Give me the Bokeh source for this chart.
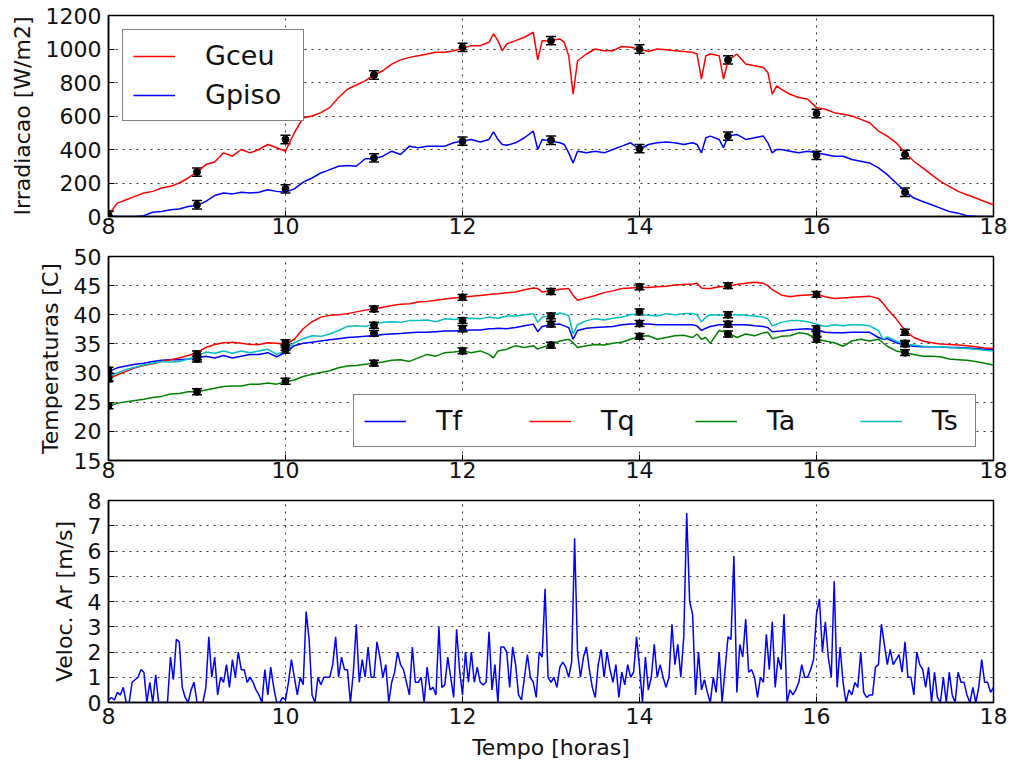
import numpy as np
from bokeh.plotting import figure
from bokeh.layouts import column
from bokeh.models import (Range1d, FixedTicker, Whisker, TeeHead, ColumnDataSource,
                          Legend, LegendItem)
from bokeh.embed import file_html
from bokeh.resources import INLINE

FONT = "DejaVu Sans"

# ---------------- data ----------------
x_ticks = [8, 10, 12, 14, 16, 18]

hora_g = [8.0, 8.1, 8.2, 8.3, 8.4, 8.5, 8.6, 8.7, 8.8, 8.9,
          9.0, 9.1, 9.2, 9.3, 9.4, 9.5, 9.6, 9.7, 9.8, 9.9,
          10.0, 10.1, 10.2, 10.3, 10.4, 10.5, 10.6, 10.7, 10.8, 10.9,
          11.0, 11.1, 11.2, 11.3, 11.4, 11.5, 11.6, 11.7, 11.8, 11.9,
          12.0, 12.1, 12.2, 12.3, 12.35, 12.4, 12.45, 12.5, 12.6, 12.7, 12.8, 12.85, 12.9,
          13.0, 13.1, 13.15, 13.2, 13.25, 13.3, 13.4, 13.5, 13.6, 13.7, 13.8, 13.9,
          14.0, 14.1, 14.2, 14.3, 14.4, 14.5, 14.6, 14.65, 14.7, 14.75, 14.8, 14.9, 14.95,
          15.0, 15.1, 15.2, 15.3, 15.4, 15.45, 15.5, 15.55, 15.6, 15.7, 15.8, 15.9,
          16.0, 16.1, 16.2, 16.3, 16.4, 16.5, 16.6, 16.7, 16.8, 16.9,
          17.0, 17.1, 17.2, 17.3, 17.4, 17.5, 17.6, 17.7, 17.8, 17.9, 18.0]

gceu = [10, 80, 100, 120, 140, 150, 170, 180, 200, 230,
        265, 310, 325, 380, 360, 400, 380, 400, 430, 410,
        390, 500, 590, 600, 620, 650, 710, 760, 785, 810,
        845, 870, 910, 935, 950, 960, 970, 980, 980, 990,
        1005, 1020, 1020, 1040, 1090, 1050, 990, 1030, 1050, 1070, 1100, 935, 1050,
        1050, 1060, 1040, 960, 730, 930, 970, 1000, 990, 990, 1015, 1010,
        1000, 985, 1000, 995, 990, 985, 980, 970, 820, 960, 970, 960, 820,
        930, 970, 910, 900, 890, 860, 730, 780, 760, 730, 710, 700,
        650, 640, 620, 610, 600, 580, 560, 510, 480, 440,
        380, 330, 290, 250, 210, 180, 150, 130, 110, 90, 70]

gpiso = [5, 0, 0, 0, 5, 25, 30, 40, 45, 60,
         65, 90, 125, 140, 135, 145, 140, 145, 160, 150,
         145, 165, 205, 230, 260, 280, 300, 305, 300, 345,
         345, 360, 390, 370, 420, 410, 420, 420, 420, 440,
         450, 460, 445, 460, 505, 460, 430, 425, 440, 470, 510, 400, 460,
         450, 440, 430, 380, 320, 390, 380, 390, 380, 400, 420, 440,
         400, 430, 440, 445, 440, 430, 440, 430, 380, 470, 480, 460, 410,
         480, 490, 460, 470, 480, 440, 380, 400, 400, 390, 380, 390,
         380, 370, 360, 360, 340, 330, 320, 290, 250, 200,
         150, 110, 90, 70, 50, 30, 20, 5, 2, 0, 0]

hora_t = [8.0, 8.1, 8.2, 8.3, 8.4, 8.5, 8.6, 8.7, 8.8, 8.9,
          9.0, 9.1, 9.2, 9.3, 9.4, 9.5, 9.6, 9.7, 9.8, 9.9,
          10.0, 10.1, 10.2, 10.3, 10.4, 10.5, 10.6, 10.7, 10.8, 10.9,
          11.0, 11.1, 11.2, 11.3, 11.4, 11.5, 11.6, 11.7, 11.8, 11.9,
          12.0, 12.1, 12.2, 12.3, 12.35, 12.4, 12.5, 12.6, 12.7, 12.8, 12.85, 12.9,
          13.0, 13.1, 13.2, 13.25, 13.3, 13.4, 13.5, 13.6, 13.7, 13.8, 13.9,
          14.0, 14.1, 14.2, 14.3, 14.4, 14.5, 14.6, 14.65, 14.7, 14.75, 14.8, 14.9,
          15.0, 15.1, 15.2, 15.3, 15.4, 15.45, 15.5, 15.6, 15.7, 15.8, 15.9,
          16.0, 16.1, 16.2, 16.3, 16.4, 16.5, 16.6, 16.7, 16.75, 16.8, 16.9,
          17.0, 17.1, 17.2, 17.3, 17.4, 17.5, 17.6, 17.7, 17.8, 17.9, 18.0]

tf = [30.3, 30.9, 31.2, 31.5, 31.7, 32.0, 32.2, 32.3, 32.3, 32.4,
      32.6, 32.9, 32.6, 33.0, 32.6, 32.9, 33.2, 33.2, 33.5, 32.8,
      33.5, 34.7, 35.1, 35.3, 35.5, 35.7, 35.9, 36.1, 36.2, 36.3,
      36.4, 36.6, 36.7, 36.8, 36.9, 37.0, 37.0, 37.1, 37.2, 37.2,
      37.3, 37.4, 37.4, 37.6, 37.6, 37.7, 37.6, 37.8, 38.1, 38.4, 37.1, 38.0,
      38.3, 38.4, 37.8, 35.8, 37.3, 37.7, 37.8, 37.9, 38.0, 38.3, 38.4,
      38.4, 38.4, 38.3, 38.3, 38.3, 38.3, 38.3, 38.1, 37.3, 37.7, 38.0, 38.3,
      38.3, 38.3, 38.3, 38.1, 38.0, 37.8, 37.1, 37.2, 37.4, 37.5, 37.6,
      37.4, 37.0, 36.9, 36.9, 37.0, 37.0, 37.0, 36.1, 35.8, 35.9, 35.2,
      34.8, 34.6, 34.5, 34.5, 34.5, 34.4, 34.4, 34.3, 34.2, 34.1, 34.1]

tq = [29.0, 29.7, 30.3, 30.9, 31.3, 31.6, 32.0, 32.3, 32.6, 33.0,
      33.5, 34.4, 34.9, 35.2, 35.3, 35.1, 34.9, 34.9, 35.2, 35.1,
      34.9, 35.8, 37.6, 38.8, 39.6, 39.9, 40.0, 40.2, 40.5, 40.8,
      41.0, 41.3, 41.6, 41.8, 41.9, 42.2, 42.3, 42.5, 42.7, 42.9,
      43.0, 43.2, 43.3, 43.5, 43.55, 43.6, 43.8, 43.9, 44.3, 44.6, 44.5, 43.9,
      44.1, 44.4, 44.5, 43.3, 42.5, 42.9, 43.3, 43.8, 44.1, 44.5, 44.6,
      44.7, 44.7, 44.8, 44.9, 45.1, 45.2, 45.3, 45.4, 44.6, 44.5, 44.5, 44.8,
      44.9, 45.2, 45.4, 45.6, 45.4, 45.0, 44.3, 43.4, 43.1, 43.3, 43.4,
      43.5, 43.1, 42.8, 42.9, 43.0, 43.1, 43.2, 42.8, 42.0, 41.0, 39.3,
      37.3, 36.1, 35.5, 35.2, 35.0, 34.9, 34.8, 34.7, 34.5, 34.3, 34.2]

ta = [24.3, 24.8, 25.1, 25.3, 25.5, 25.8, 26.0, 26.4, 26.5, 26.8,
      26.8, 27.1, 27.4, 27.7, 27.8, 27.8, 28.1, 28.1, 28.3, 28.1,
      28.5, 28.8, 29.4, 29.8, 30.1, 30.4, 30.9, 31.2, 31.3, 31.5,
      31.7, 31.9, 32.2, 32.3, 32.0, 32.6, 33.2, 32.9, 33.5, 33.6,
      33.8, 33.5, 33.8, 33.2, 32.6, 33.8, 34.1, 34.7, 34.4, 34.7, 34.1, 34.4,
      34.9, 35.5, 35.8, 35.2, 34.4, 34.7, 34.9, 34.8, 35.1, 35.3, 35.8,
      36.3, 36.4, 35.8, 36.1, 36.4, 36.5, 36.1, 36.7, 35.8, 36.1, 35.1, 37.3,
      36.9, 36.1, 36.7, 36.4, 36.9, 37.0, 35.9, 36.3, 36.4, 36.9, 36.7,
      35.8, 35.5, 35.2, 34.6, 35.5, 35.8, 35.5, 35.8, 35.2, 34.6, 33.8,
      33.5, 33.2, 32.9, 32.9, 32.8, 32.4, 32.3, 32.2, 32.0, 31.7, 31.4]

ts = [29.4, 30.0, 30.6, 31.0, 31.4, 31.7, 32.0, 31.9, 32.0, 32.4,
      32.9, 33.6, 33.4, 33.8, 33.4, 33.8, 33.5, 33.8, 34.1, 33.2,
      33.8, 35.2, 35.9, 36.4, 36.3, 36.7, 37.3, 38.0, 38.1, 38.0,
      38.4, 38.7, 38.8, 38.7, 39.0, 39.0, 39.1, 38.8, 39.3, 39.2,
      39.3, 39.4, 39.3, 39.6, 39.5, 39.4, 39.8, 39.8, 40.0, 40.2, 38.7, 39.6,
      39.8, 40.3, 39.9, 36.7, 38.3, 39.0, 39.3, 39.1, 39.4, 39.6, 40.0,
      40.2, 39.9, 39.8, 40.2, 40.0, 40.2, 40.2, 40.0, 38.8, 39.6, 40.0, 39.9,
      40.0, 40.0, 39.9, 39.8, 39.6, 39.3, 38.1, 38.7, 39.0, 39.0, 38.8,
      38.4, 38.0, 38.3, 38.1, 38.3, 38.3, 38.1, 37.3, 35.8, 36.2, 35.5,
      34.9, 34.8, 34.6, 34.5, 34.5, 34.4, 34.3, 34.2, 34.1, 33.9, 33.8]

# hourly reference measurements with error bars
hora_e = [8, 9, 10, 11, 12, 13, 14, 15, 16, 17]
gceu_e = [10, 265, 460, 845, 1010, 1050, 1000, 935, 615, 370]
gpiso_e = [5, 70, 165, 350, 450, 455, 405, 480, 365, 145]
tf_e = [30.5, 32.4, 33.9, 36.8, 37.6, 38.4, 38.5, 38.4, 36.7, 35.0]
tq_e = [29.0, 33.3, 35.2, 41.0, 43.0, 44.0, 44.8, 45.0, 43.5, 37.0]
ta_e = [24.4, 26.8, 28.6, 31.7, 33.8, 34.8, 36.3, 36.7, 35.8, 33.5]
ts_e = [29.2, 32.8, 34.4, 38.2, 39.0, 39.8, 40.5, 40.0, 37.6, 35.1]
erro_g = 25
erro_t = 0.5

# wind speed, one sample every 2 minutes from 8:00 to 18:00
vento = [
    0.1, 0.2, 0.1, 0.4, 0.3, 0.6, 0.0, 0.0, 0.8, 0.9, 1.0, 1.3, 1.2, 0.0, 0.8, 0.0, 1.1, 0.0, 0.0, 0.0, 0.0, 1.8, 0.9, 2.5, 2.4, 0.6, 0.2, 0.0, 0.5, 0.8,
    0.0, 0.0, 0.0, 0.6, 2.6, 1.0, 1.8, 0.3, 1.0, 0.8, 1.5, 0.6, 1.7, 1.0, 2.0, 1.3, 1.3, 0.8, 1.0, 0.8, 0.5, 0.3, 0.0, 1.3, 0.3, 1.4, 0.6, 0.0, 0.0, 0.2,
    0.1, 0.8, 1.7, 1.0, 0.3, 1.0, 0.7, 3.6, 2.5, 0.3, 0.0, 1.0, 0.7, 1.0, 1.0, 1.0, 1.5, 2.6, 1.0, 1.8, 1.3, 1.3, 0.0, 1.2, 3.1, 0.8, 1.7, 1.0, 2.2, 1.0,
    1.0, 2.4, 1.8, 1.0, 1.5, 0.0, 0.8, 1.2, 2.0, 1.5, 1.3, 0.8, 0.3, 2.2, 0.8, 0.8, 1.0, 0.0, 1.4, 0.5, 0.6, 0.3, 3.0, 0.6, 0.7, 1.8, 1.0, 0.2, 2.9, 1.3,
    0.3, 2.0, 0.8, 2.0, 0.8, 1.4, 0.8, 0.7, 0.8, 2.8, 0.5, 1.5, 0.0, 2.2, 2.2, 2.0, 0.6, 2.2, 1.5, 0.3, 0.1, 1.0, 1.9, 1.0, 0.8, 0.2, 2.0, 1.8, 4.5, 1.0,
    0.8, 1.0, 0.6, 1.4, 1.6, 1.4, 1.0, 1.6, 6.5, 2.0, 1.0, 1.8, 2.2, 1.3, 0.6, 0.2, 1.5, 2.1, 1.0, 2.0, 1.3, 0.8, 1.5, 0.2, 1.2, 0.7, 1.5, 1.0, 1.2, 2.6,
    1.4, 0.0, 1.8, 0.5, 1.0, 2.3, 1.0, 1.5, 1.0, 0.6, 1.0, 3.1, 1.5, 2.3, 1.0, 2.6, 7.5, 4.0, 3.5, 0.3, 2.0, 0.5, 0.9, 0.4, 0.0, 1.0, 0.4, 2.0, 0.0, 1.3,
    2.6, 2.5, 5.8, 0.4, 2.3, 1.8, 3.3, 1.2, 1.3, 1.0, 0.2, 1.0, 0.8, 2.7, 1.3, 3.2, 0.6, 1.8, 1.3, 3.5, 0.0, 0.5, 0.3, 0.5, 0.8, 1.5, 1.0, 1.0, 1.3, 1.7,
    3.5, 4.1, 2.0, 3.2, 1.8, 1.0, 4.8, 0.6, 2.2, 0.8, 0.0, 0.5, 0.3, 0.8, 0.6, 2.0, 0.4, 0.2, 0.3, 0.3, 1.4, 1.5, 3.1, 2.3, 1.5, 2.1, 1.5, 1.7, 1.9, 1.2,
    2.4, 1.0, 1.0, 0.3, 2.0, 1.5, 1.3, 0.6, 1.4, 0.0, 1.2, 0.2, 0.0, 1.0, 0.0, 1.2, 0.3, 0.0, 1.2, 0.8, 0.8, 0.3, 0.0, 0.6, 0.0, 0.6, 1.7, 0.8, 0.8, 0.4,
    0.6]
hora_v = 8 + np.arange(len(vento)) * 2 / 60.0

RED, BLUE, GREEN, CYAN = "#ff0000", "#0000ff", "#008000", "#00bfbf"


def base_fig(y0, y1, yticks, ylabel, fh, top, bottom, xstandoff, xlabel=None):
    p = figure(frame_width=885, frame_height=fh,
               x_range=Range1d(8, 18), y_range=Range1d(y0, y1),
               output_backend="svg", toolbar_location=None,
               min_border_left=108, min_border_right=16,
               min_border_top=top, min_border_bottom=bottom)
    p.xaxis.ticker = FixedTicker(ticks=x_ticks)
    p.yaxis.ticker = FixedTicker(ticks=yticks)
    for ax in p.axis:
        ax.major_label_text_font = FONT
        ax.major_label_text_font_size = "22px"
        ax.major_label_text_color = "#111111"
        ax.axis_label_text_font = FONT
        ax.axis_label_text_font_size = "22px"
        ax.axis_label_text_font_style = "normal"
        ax.axis_label_text_color = "#111111"
        ax.major_tick_in = 6
        ax.major_tick_out = 0
        ax.minor_tick_line_color = None
        ax.major_tick_line_color = "black"
        ax.axis_line_color = "black"
        ax.axis_line_width = 1.5
    p.xaxis.major_label_standoff = xstandoff
    p.yaxis.major_label_standoff = 7
    p.yaxis.axis_label = ylabel
    p.yaxis.axis_label_standoff = 8
    if xlabel:
        p.xaxis.axis_label = xlabel
        p.xaxis.axis_label_standoff = 8
    p.grid.grid_line_color = "black"
    p.grid.grid_line_dash = "2 5"
    p.grid.grid_line_width = 1
    p.grid.grid_line_alpha = 0.8
    p.outline_line_color = "black"
    p.outline_line_width = 1.5
    p.outline_line_alpha = 1
    p.background_fill_color = "white"
    p.border_fill_color = "white"
    return p


def error_bars(p, xs, ys, err):
    src = ColumnDataSource(dict(x=xs, y=ys,
                                lo=[v - err for v in ys], hi=[v + err for v in ys]))
    w = Whisker(base="x", upper="hi", lower="lo", source=src, dimension="height",
                line_color="black", line_width=1.5,
                upper_head=TeeHead(size=10, line_color="black", line_width=1.5),
                lower_head=TeeHead(size=10, line_color="black", line_width=1.5))
    p.add_layout(w)
    p.scatter("x", "y", source=src, size=7, color="black")


def style_legend(lg):
    lg.label_text_font = FONT
    lg.label_text_font_size = "27px"
    lg.label_text_color = "#111111"
    lg.glyph_width = 42
    lg.glyph_height = 28
    lg.label_height = 28
    lg.label_standoff = 30
    lg.border_line_color = "black"
    lg.border_line_width = 1.5
    lg.background_fill_color = "white"
    lg.background_fill_alpha = 1
    lg.margin = 0


# ---------------- irradiance ----------------
p1 = base_fig(0, 1200, [0, 200, 400, 600, 800, 1000, 1200], "Irradiacao [W/m2]",
              201, 15, 27, 1)
r_gc = p1.line(hora_g, gceu, line_color=RED, line_width=1.5)
r_gp = p1.line(hora_g, gpiso, line_color=BLUE, line_width=1.5)
error_bars(p1, hora_e, gceu_e, erro_g)
error_bars(p1, hora_e, gpiso_e, erro_g)
lg1 = Legend(items=[LegendItem(label="Gceu", renderers=[r_gc]),
                    LegendItem(label="Gpiso", renderers=[r_gp])],
             location=(14, 95), orientation="vertical")
style_legend(lg1)
lg1.padding = 10
lg1.spacing = 8
lg1.label_width = 88
p1.add_layout(lg1)

# ---------------- temperatures ----------------
p2 = base_fig(15, 50, [15, 20, 25, 30, 35, 40, 45, 50], "Temperaturas [C]",
              204, 13, 27, 1)
r_tf = p2.line(hora_t, tf, line_color=BLUE, line_width=1.5)
r_tq = p2.line(hora_t, tq, line_color=RED, line_width=1.5)
r_ta = p2.line(hora_t, ta, line_color=GREEN, line_width=1.5)
r_ts = p2.line(hora_t, ts, line_color=CYAN, line_width=1.5)
for ys in (tf_e, tq_e, ta_e, ts_e):
    error_bars(p2, hora_e, ys, erro_t)
lg2 = Legend(items=[LegendItem(label="Tf", renderers=[r_tf]),
                    LegendItem(label="Tq", renderers=[r_tq]),
                    LegendItem(label="Ta", renderers=[r_ta]),
                    LegendItem(label="Ts", renderers=[r_ts])],
             location=(245, 13), orientation="horizontal")
style_legend(lg2)
lg2.padding = 10
lg2.spacing = 60
lg2.label_width = 33
p2.add_layout(lg2)

# ---------------- wind ----------------
p3 = base_fig(0, 8, [0, 1, 2, 3, 4, 5, 6, 7, 8], "Veloc. Ar [m/s]",
              202, 13, 40, 5, xlabel="Tempo [horas]")
p3.line(hora_v, vento, line_color=BLUE, line_width=1.5)

layout = column(p1, p2, p3, spacing=0)
open("out.html", "w").write(file_html(layout, INLINE))
